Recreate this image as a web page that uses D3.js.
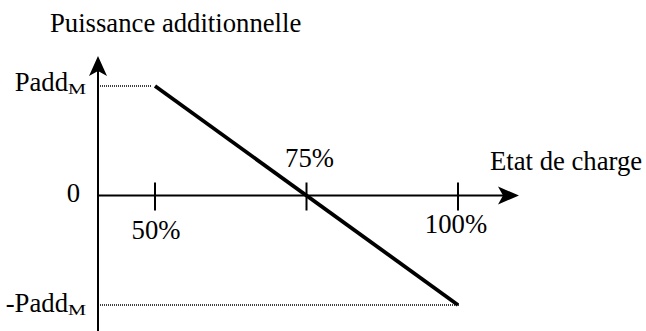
<!DOCTYPE html>
<html>
<head>
<meta charset="utf-8">
<script src="https://cdn.jsdelivr.net/npm/d3@7"></script>
<style>
  html, body { margin: 0; padding: 0; background: #fff; }
  svg { display: block; }
  text { font-family: "Liberation Serif", "Times New Roman", serif; fill: #000; }
</style>
</head>
<body>
<svg id="chart" width="646" height="331"></svg>
<script>
// ---- data ----
const xTicks = [50, 75, 100];
const xTickLabels = ["50%", "75%", "100%"];
const yTicks = [1, 0, -1];
const yTickLabels = ["Padd", "0", "-Padd"];
const seriesX = [50, 100];
const seriesY = [1, -1];
const xTitle = "Etat de charge";
const yTitle = "Puissance additionnelle";

// ---- layout ----
const svg = d3.select("#chart");
const x = d3.scaleLinear().domain([50, 100]).range([155, 458]);
const y = d3.scaleLinear().domain([-1, 1]).range([305, 86]);
const axisX = 98;          // y-axis pixel position
const axisY = y(0);        // x-axis pixel position
const xEnd = 519, yTop = 56;
const fs = 26.7;

// dotted guide lines
svg.append("line").attr("x1", axisX + 2).attr("x2", x(seriesX[0]) - 3)
  .attr("y1", y(seriesY[0])).attr("y2", y(seriesY[0]))
  .attr("stroke", "#000").attr("stroke-width", 1.5).attr("stroke-dasharray", "1,1");
svg.append("line").attr("x1", axisX + 2).attr("x2", x(seriesX[1]) + 1)
  .attr("y1", y(seriesY[1])).attr("y2", y(seriesY[1]))
  .attr("stroke", "#000").attr("stroke-width", 1.5).attr("stroke-dasharray", "1,1");

// axes
svg.append("line").attr("x1", axisX).attr("x2", axisX).attr("y1", 331).attr("y2", yTop + 8)
  .attr("stroke", "#000").attr("stroke-width", 2);
svg.append("line").attr("x1", axisX).attr("x2", xEnd - 8).attr("y1", axisY).attr("y2", axisY)
  .attr("stroke", "#000").attr("stroke-width", 2);

// arrowheads
svg.append("path")
  .attr("d", `M${axisX},${yTop} L${axisX + 9},${yTop + 20} L${axisX},${yTop + 15} L${axisX - 9},${yTop + 20} Z`)
  .attr("fill", "#000");
svg.append("path")
  .attr("d", `M${xEnd},${axisY} L${xEnd - 21},${axisY - 9} L${xEnd - 16},${axisY} L${xEnd - 21},${axisY + 9} Z`)
  .attr("fill", "#000");

// x ticks
svg.selectAll(".xtick").data(xTicks).join("line")
  .attr("x1", d => x(d)).attr("x2", d => x(d))
  .attr("y1", axisY - 13).attr("y2", axisY + 15)
  .attr("stroke", "#000").attr("stroke-width", 2);

const xLabelPos = [{dx: 1, y: 239}, {dx: 3, y: 167}, {dx: -2, y: 233}];
svg.selectAll(".xlab").data(xTicks).join("text")
  .attr("x", (d, i) => x(d) + xLabelPos[i].dx)
  .attr("y", (d, i) => xLabelPos[i].y)
  .attr("text-anchor", "middle")
  .attr("font-size", fs)
  .text((d, i) => xTickLabels[i]);

// y tick labels
const yLabelBase = [{x: 68, dy: 5}, {x: 80, dy: 6}, {x: 68, dy: 7}];
yTicks.forEach((v, i) => {
  svg.append("text")
    .attr("x", yLabelBase[i].x).attr("y", y(v) + yLabelBase[i].dy)
    .attr("text-anchor", "end").attr("font-size", fs)
    .text(yTickLabels[i]);
  if (v !== 0) {
    svg.append("text")
      .attr("x", 68).attr("y", y(v) + yLabelBase[i].dy + 2.6)
      .attr("font-size", 14)
      .attr("textLength", 18).attr("lengthAdjust", "spacingAndGlyphs")
      .text("M");
  }
});

// series line
const line = d3.line().x((d, i) => x(seriesX[i])).y((d, i) => y(seriesY[i]));
svg.append("path").datum(seriesX).attr("d", line)
  .attr("fill", "none").attr("stroke", "#000").attr("stroke-width", 3.8);

// titles
svg.append("text").attr("x", 50).attr("y", 32).attr("font-size", fs).text(yTitle);
svg.append("text").attr("x", 490).attr("y", 170).attr("font-size", fs).text(xTitle);
</script>
</body>
</html>
